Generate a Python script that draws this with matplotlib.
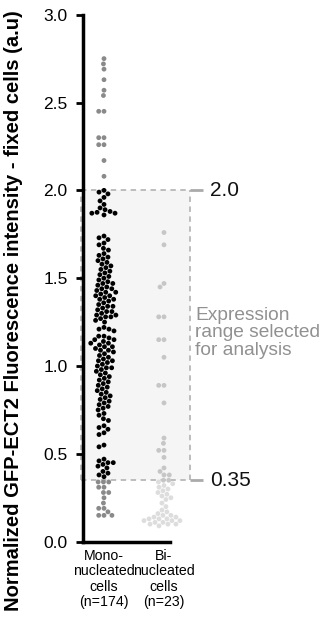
import numpy as np
import matplotlib
matplotlib.use("Agg")
import matplotlib.pyplot as plt
from matplotlib import font_manager

names = {f.name for f in font_manager.fontManager.ttflist}
FONT = "Liberation Sans Narrow" if "Liberation Sans Narrow" in names else "Liberation Sans"
plt.rcParams["font.family"] = [FONT, "DejaVu Sans"]

# ---------------- data ----------------
categories = ["Mono-\nnucleated\ncells\n(n=174)", "Bi-\nnucleated\ncells\n(n=23)"]
range_low, range_high = 0.35, 2.0

mono_values = [
    2.75, 2.72, 2.69, 2.63, 2.57, 2.54, 2.45, 2.45, 2.30, 2.30, 2.26, 2.26, 2.17, 2.08,
    2.00, 1.99, 1.98, 1.96,
    1.94, 1.92, 1.90, 1.89, 1.88, 1.875, 1.87, 1.87, 1.86,
    1.74, 1.73, 1.72, 1.70, 1.69, 1.67, 1.66,
    1.64, 1.63, 1.62, 1.61, 1.60, 1.59, 1.58, 1.57, 1.56,
    1.55, 1.54, 1.53, 1.52, 1.51, 1.50, 1.49, 1.48, 1.47, 1.47, 1.46, 1.45,
    1.44, 1.44, 1.43, 1.42, 1.42, 1.41, 1.40, 1.40, 1.39, 1.38, 1.38, 1.37, 1.36, 1.35,
    1.34, 1.34, 1.33, 1.32, 1.31, 1.31, 1.30, 1.29, 1.29, 1.28, 1.28, 1.27, 1.26, 1.25,
    1.22, 1.21, 1.21, 1.20,
    1.17, 1.17, 1.16, 1.15, 1.15, 1.14, 1.13, 1.13, 1.12, 1.11, 1.11, 1.10, 1.09, 1.09,
    1.08, 1.07, 1.06, 1.05,
    1.04, 1.03, 1.03, 1.02, 1.01, 1.00, 0.99, 0.99, 0.98, 0.97, 0.96, 0.95,
    0.94, 0.93, 0.92, 0.91, 0.90, 0.89, 0.88, 0.87, 0.86, 0.85,
    0.84, 0.83, 0.82, 0.81, 0.80, 0.79, 0.78, 0.77, 0.76, 0.75,
    0.73, 0.72, 0.70, 0.69,
    0.66, 0.65, 0.64, 0.62, 0.61,
    0.55, 0.54,
    0.47, 0.46, 0.45, 0.45, 0.44, 0.43, 0.42,
    0.40, 0.39, 0.38, 0.37,
    0.34, 0.34, 0.34, 0.31, 0.31, 0.28, 0.28, 0.25, 0.22, 0.19, 0.19, 0.17, 0.15, 0.15, 0.15,
]

bi_values = [
    1.76, 1.69, 1.47, 1.45, 1.28, 1.28, 1.15, 1.15, 1.05, 0.89, 0.89, 0.79,
    0.59, 0.56, 0.52, 0.52, 0.48, 0.42, 0.40, 0.38, 0.38,
    0.35, 0.35, 0.34, 0.33, 0.32, 0.31, 0.30, 0.29, 0.28, 0.27, 0.26, 0.25, 0.24,
    0.22, 0.20, 0.18, 0.17, 0.16, 0.15, 0.15, 0.14, 0.14, 0.13, 0.13, 0.13, 0.12,
    0.12, 0.12, 0.11, 0.11, 0.10, 0.10, 0.10, 0.09,
]

yticks = [0.0, 0.5, 1.0, 1.5, 2.0, 2.5, 3.0]
ylabel = "Normalized GFP-ECT2 Fluorescence intensity - fixed cells (a.u)"
range_note = "Expression\nrange selected\nfor analysis"

# colours: (inside range, outside range)
mono_colors = ("#000000", "#8a8a8a")
bi_colors = ("#c6c6c6", "#dddddd")

# ---------------- figure ----------------
W, H = 325, 632
fig = plt.figure(figsize=(W / 100, H / 100), dpi=100)
ax_left, ax_bottom, ax_top = 83, 541.7, 14.7
ax = fig.add_axes([ax_left / W, (H - ax_bottom) / H, (W - ax_left) / W, (ax_bottom - ax_top) / H])
ax.set_ylim(0, 3.0)
px_per_x = 60.0
x0 = 1 - 21 / px_per_x
ax.set_xlim(x0, x0 + (W - ax_left) / px_per_x)

def swarm(values, center, diam):
    """Simple beeswarm layout in display pixels."""
    vals = np.asarray(values, float)
    pts = ax.transData.transform(np.column_stack([np.full(len(vals), center), vals]))
    cx = pts[0, 0]
    order = np.argsort(-vals, kind="stable")
    placed = []
    xs = np.zeros(len(vals))
    for i in order:
        y = pts[i, 1]
        near = [(px, py) for px, py in placed if abs(py - y) < diam]
        cands = [0.0]
        for px, py in near:
            dx = np.sqrt(diam ** 2 - (py - y) ** 2)
            cands += [px + dx, px - dx]
        cands = sorted(cands, key=lambda c: (abs(c), c))
        for c in cands:
            if all((c - px) ** 2 + (y - py) ** 2 >= diam ** 2 - 1e-6 for px, py in near):
                break
        placed.append((c, y))
        xs[i] = c
    disp = np.column_stack([cx + xs, pts[:, 1]])
    return ax.transData.inverted().transform(disp)

# shaded selection range
box_right = 1 + (190 - 104) / px_per_x
ax.fill_between([x0 - 0.03, box_right], range_low, range_high, color="#f5f5f5", zorder=0, lw=0)
dash = dict(color="#b8b8b8", lw=1.3, ls=(0, (3, 2.5)), zorder=1, clip_on=False)
ax.plot([x0 - 0.03, box_right], [range_high, range_high], **dash)
ax.plot([x0 - 0.03, box_right], [range_low, range_low], **dash)
ax.plot([box_right, box_right], [range_low, range_high], **dash)
ax.plot([x0 - 0.03, x0 - 0.03], [range_low, range_high], **dash)
tick_end = 1 + (203 - 104) / px_per_x
for v in (range_high, range_low):
    ax.plot([box_right, tick_end], [v, v], color="#aaaaaa", lw=2, zorder=1, solid_capstyle="butt")
txt_x = 1 + (210 - 104) / px_per_x
ax.text(txt_x, range_high, "2.0", fontsize=15, va="center", ha="left", color="#111111")
ax.text(txt_x, range_low, "0.35", fontsize=15, va="center", ha="left", color="#111111")
ax.text(1 + (195 - 104) / px_per_x, 1.19, range_note, fontsize=13.8, color="#919191",
        va="center", ha="left", linespacing=1.05)

# points
for vals, center, cols in ((mono_values, 1, mono_colors), (bi_values, 2, bi_colors)):
    xy = swarm(vals, center, 5.3)
    v = np.asarray(vals)
    inside = (v >= range_low) & (v <= range_high + 0.005)
    c = np.where(inside, cols[0], cols[1])
    ax.scatter(xy[:, 0], xy[:, 1], s=12, c=list(c), linewidths=0, zorder=3, clip_on=False)

# axes styling
for s in ("top", "right"):
    ax.spines[s].set_visible(False)
ax.spines["left"].set_linewidth(2.5)
ax.spines["bottom"].set_linewidth(2.5)
ax.spines["bottom"].set_bounds(x0, 2.1)
ax.set_yticks(yticks)
ax.set_yticklabels([f"{t:.1f}" for t in yticks], fontsize=12.5)
ax.tick_params(axis="y", direction="out", length=5, width=2, pad=6)
ax.set_xticks([1, 2])
ax.set_xticklabels(categories, fontsize=10.2, linespacing=1.13)
ax.tick_params(axis="x", length=0, pad=5)

# y label placed explicitly in figure pixels (centre x ~14, centre y ~311 from top)
fig.text(14 / W, 1 - 311 / H, ylabel, rotation=90, fontsize=14.5, fontweight="bold",
         ha="center", va="center")
ax.patch.set_alpha(0)

fig.savefig("out.png", dpi=100)
